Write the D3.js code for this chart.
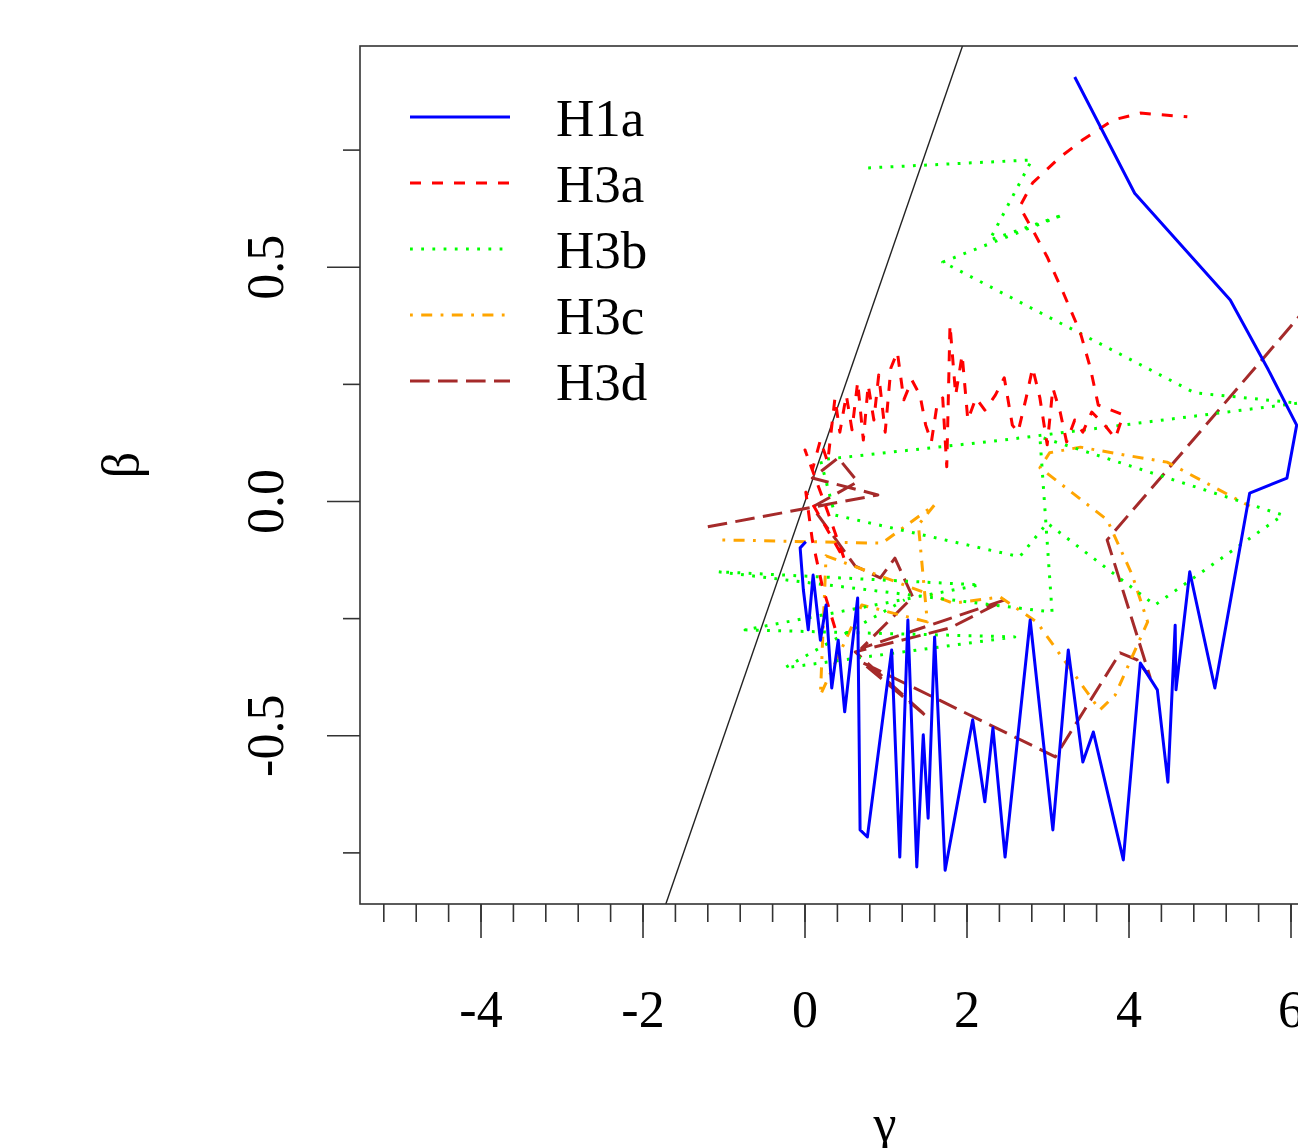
<!DOCTYPE html>
<html>
<head>
<meta charset="utf-8">
<script src="https://cdn.jsdelivr.net/npm/d3@7"></script>
<style>
  body { margin: 0; background: #fff; }
  svg { display: block; }
  text { font-family: "Liberation Serif", "Times New Roman", serif; fill: #000; }
</style>
</head>
<body>
<div id="chart"></div>
<script>
// values: [gamma, beta]
const H1a = [[3.33,0.906],[4.07,0.658],[5.25,0.430],[5.72,0.281],[6.07,0.163],[5.95,0.050],[5.49,0.018],
  [5.06,-0.398],[4.75,-0.150],[4.58,-0.402],[4.57,-0.264],[4.48,-0.599],[4.35,-0.402],[4.14,-0.345],
  [3.93,-0.765],[3.56,-0.492],[3.43,-0.556],[3.25,-0.317],[3.06,-0.701],[2.78,-0.253],[2.47,-0.759],
  [2.32,-0.483],[2.22,-0.641],[2.07,-0.466],[1.73,-0.787],[1.60,-0.289],[1.52,-0.676],[1.46,-0.498],
  [1.38,-0.780],[1.27,-0.253],[1.17,-0.759],[1.07,-0.317],[0.77,-0.716],[0.68,-0.701],[0.65,-0.206],
  [0.49,-0.449],[0.41,-0.296],[0.33,-0.398],[0.26,-0.221],[0.19,-0.296],[0.10,-0.157],[0.04,-0.274],
  [-0.02,-0.189],[-0.06,-0.099],[0.01,-0.086]];

const H3a = [[0.37,-0.270],[0.21,-0.178],[0.09,-0.082],[0.01,0.020],[0.49,-0.125],[0.28,-0.022],[0.00,0.110],
  [0.09,0.067],[0.19,0.131],[0.28,0.084],[0.37,0.221],[0.43,0.148],[0.51,0.227],[0.58,0.153],[0.65,0.255],
  [0.72,0.131],[0.78,0.249],[0.85,0.174],[0.91,0.270],[0.99,0.148],[1.06,0.285],[1.14,0.319],[1.22,0.217],
  [1.32,0.259],[1.42,0.227],[1.49,0.163],[1.56,0.127],[1.63,0.206],[1.70,0.221],[1.75,0.074],[1.79,0.377],
  [1.86,0.227],[1.94,0.313],[2.01,0.174],[2.11,0.221],[2.22,0.195],[2.35,0.227],[2.46,0.264],[2.56,0.163],
  [2.63,0.148],[2.73,0.221],[2.81,0.285],[2.90,0.221],[2.99,0.121],[3.06,0.242],[3.15,0.191],[3.23,0.127],
  [3.33,0.174],[3.43,0.148],[3.54,0.191],[3.70,0.163],[3.83,0.135],[3.93,0.185],[3.62,0.206],[3.52,0.287],
  [3.40,0.360],[3.19,0.445],[2.99,0.522],[2.81,0.580],[2.65,0.629],[2.81,0.680],[3.15,0.735],[3.43,0.772],
  [3.80,0.814],[4.14,0.829],[4.72,0.821]];

const H3b = [[0.78,0.712],[2.80,0.729],[2.28,0.558],[3.19,0.612],[1.70,0.511],[4.81,0.232],[6.09,0.210],
  [2.44,0.131],[0.19,0.089],[0.37,-0.029],[2.65,-0.118],[2.99,-0.046],[4.32,-0.221],[5.90,-0.029],
  [2.90,0.138],[3.05,-0.236],[-1.07,-0.150],[2.16,-0.178],[-0.74,-0.274],[2.59,-0.289],[-0.25,-0.355],
  [1.23,-0.210]];

const H3c = [[-1.02,-0.082],[0.95,-0.089],[1.60,-0.007],[1.40,-0.050],[1.51,-0.257],[0.70,-0.221],
  [0.19,-0.413],[0.26,-0.116],[1.83,-0.217],[2.41,-0.204],[2.86,-0.257],[3.64,-0.445],[3.83,-0.413],
  [4.23,-0.257],[4.04,-0.157],[3.73,-0.039],[2.90,0.072],[3.02,0.104],[3.40,0.116],[3.95,0.099],
  [4.47,0.084],[4.96,0.039],[5.49,-0.010]];

const H3d = [[-1.20,-0.054],[0.90,0.014],[0.09,0.050],[0.41,0.093],[0.65,0.042],[0.09,-0.012],[0.62,-0.138],
  [0.93,-0.163],[1.11,-0.121],[1.33,-0.204],[0.70,-0.313],[2.47,-0.210],[1.79,-0.270],[0.62,-0.321],
  [1.51,-0.460],[0.70,-0.343],[3.09,-0.545],[3.89,-0.323],[4.10,-0.338],[4.26,-0.375],[3.73,-0.082],
  [6.49,0.473]];

const seriesNames = ['H1a', 'H3a', 'H3b', 'H3c', 'H3d'];
const seriesColors = ['#0000ff', '#ff0000', '#00ff00', '#ffa500', '#a52a2a'];
const seriesDash = ['', '11 11', '2.8 8.4', '2.8 8.4 11 8.4', '19.6 8.4'];
const seriesData = [H1a, H3a, H3b, H3c, H3d];

// reference line beta = 0.5 * gamma
const abline = { intercept: 0, slope: 0.5 };

const gammaTicks = [-4, -2, 0, 2, 4, 6];
const gammaMinor = d3.range(-5.2, 7.0, 0.4);
const betaTicks = [-0.5, 0, 0.5];
const betaMinor = [-0.75, -0.25, 0.25, 0.75];

const width = 1298, height = 1148;
const plot = { left: 360, top: 46, bottom: 904, right: 1372 };

const x = d3.scaleLinear().domain([-5.494, 7.0]).range([plot.left, plot.right]);
const y = d3.scaleLinear().domain([-0.8591, 0.9722]).range([plot.bottom, plot.top]);

const svg = d3.select('#chart').append('svg')
  .attr('width', width)
  .attr('height', height);

svg.append('clipPath').attr('id', 'plotclip')
  .append('rect')
  .attr('x', plot.left).attr('y', plot.top)
  .attr('width', plot.right - plot.left).attr('height', plot.bottom - plot.top);

const inner = svg.append('g').attr('clip-path', 'url(#plotclip)');

// black reference line
const xd = x.domain();
inner.append('line')
  .attr('x1', x(xd[0])).attr('y1', y(abline.intercept + abline.slope * xd[0]))
  .attr('x2', x(xd[1])).attr('y2', y(abline.intercept + abline.slope * xd[1]))
  .style('stroke', '#222')
  .style('stroke-width', 1.4);

const line = d3.line().x(d => x(d[0])).y(d => y(d[1]));

// draw from last to first so the blue line sits on top
seriesData.slice().reverse().forEach((data, k) => {
  const i = seriesData.length - 1 - k;
  inner.append('path')
    .datum(data)
    .attr('d', line)
    .style('fill', 'none')
    .style('stroke', seriesColors[i])
    .style('stroke-width', 3)
    .style('stroke-linejoin', 'round')
    .style('stroke-dasharray', seriesDash[i] || null);
});

// box
svg.append('rect')
  .attr('x', plot.left).attr('y', plot.top)
  .attr('width', plot.right - plot.left).attr('height', plot.bottom - plot.top)
  .style('fill', 'none')
  .style('stroke', '#333')
  .style('stroke-width', 1.6);

// x axis
const xAxis = svg.append('g');
xAxis.selectAll('.minor').data(gammaMinor).enter().append('line')
  .attr('x1', d => x(d)).attr('x2', d => x(d))
  .attr('y1', plot.bottom).attr('y2', plot.bottom + 18)
  .style('stroke', '#333').style('stroke-width', 1.6);
xAxis.selectAll('.major').data(gammaTicks).enter().append('line')
  .attr('x1', d => x(d)).attr('x2', d => x(d))
  .attr('y1', plot.bottom).attr('y2', plot.bottom + 34)
  .style('stroke', '#333').style('stroke-width', 1.6);
xAxis.selectAll('text').data(gammaTicks).enter().append('text')
  .attr('x', d => x(d))
  .attr('y', 1027)
  .attr('text-anchor', 'middle')
  .style('font-size', '52px')
  .text(d => String(d));

// y axis
const yAxis = svg.append('g');
yAxis.selectAll('.minor').data(betaMinor).enter().append('line')
  .attr('x1', plot.left - 17).attr('x2', plot.left)
  .attr('y1', d => y(d)).attr('y2', d => y(d))
  .style('stroke', '#333').style('stroke-width', 1.6);
yAxis.selectAll('.major').data(betaTicks).enter().append('line')
  .attr('x1', plot.left - 33).attr('x2', plot.left)
  .attr('y1', d => y(d)).attr('y2', d => y(d))
  .style('stroke', '#333').style('stroke-width', 1.6);
yAxis.selectAll('text').data(betaTicks).enter().append('text')
  .attr('transform', d => 'translate(283,' + y(d) + ') rotate(-90)')
  .attr('text-anchor', 'middle')
  .style('font-size', '52px')
  .text(d => d.toFixed(1));

// axis titles
svg.append('text')
  .attr('transform', 'translate(138,465) rotate(-90)')
  .attr('text-anchor', 'middle')
  .style('font-size', '52px')
  .text('β');
svg.append('text')
  .attr('x', 885).attr('y', 1141)
  .attr('text-anchor', 'middle')
  .style('font-size', '52px')
  .text('γ');

// legend
const legend = svg.append('g');
seriesNames.forEach((name, i) => {
  const ly = 117 + i * 66;
  legend.append('line')
    .attr('x1', 410).attr('x2', 510)
    .attr('y1', ly).attr('y2', ly)
    .style('stroke', seriesColors[i])
    .style('stroke-width', 3)
    .style('stroke-dasharray', seriesDash[i] || null);
  legend.append('text')
    .attr('x', 556).attr('y', ly)
    .attr('dy', '0.35em')
    .style('font-size', '53px')
    .text(name);
});
</script>
</body>
</html>
